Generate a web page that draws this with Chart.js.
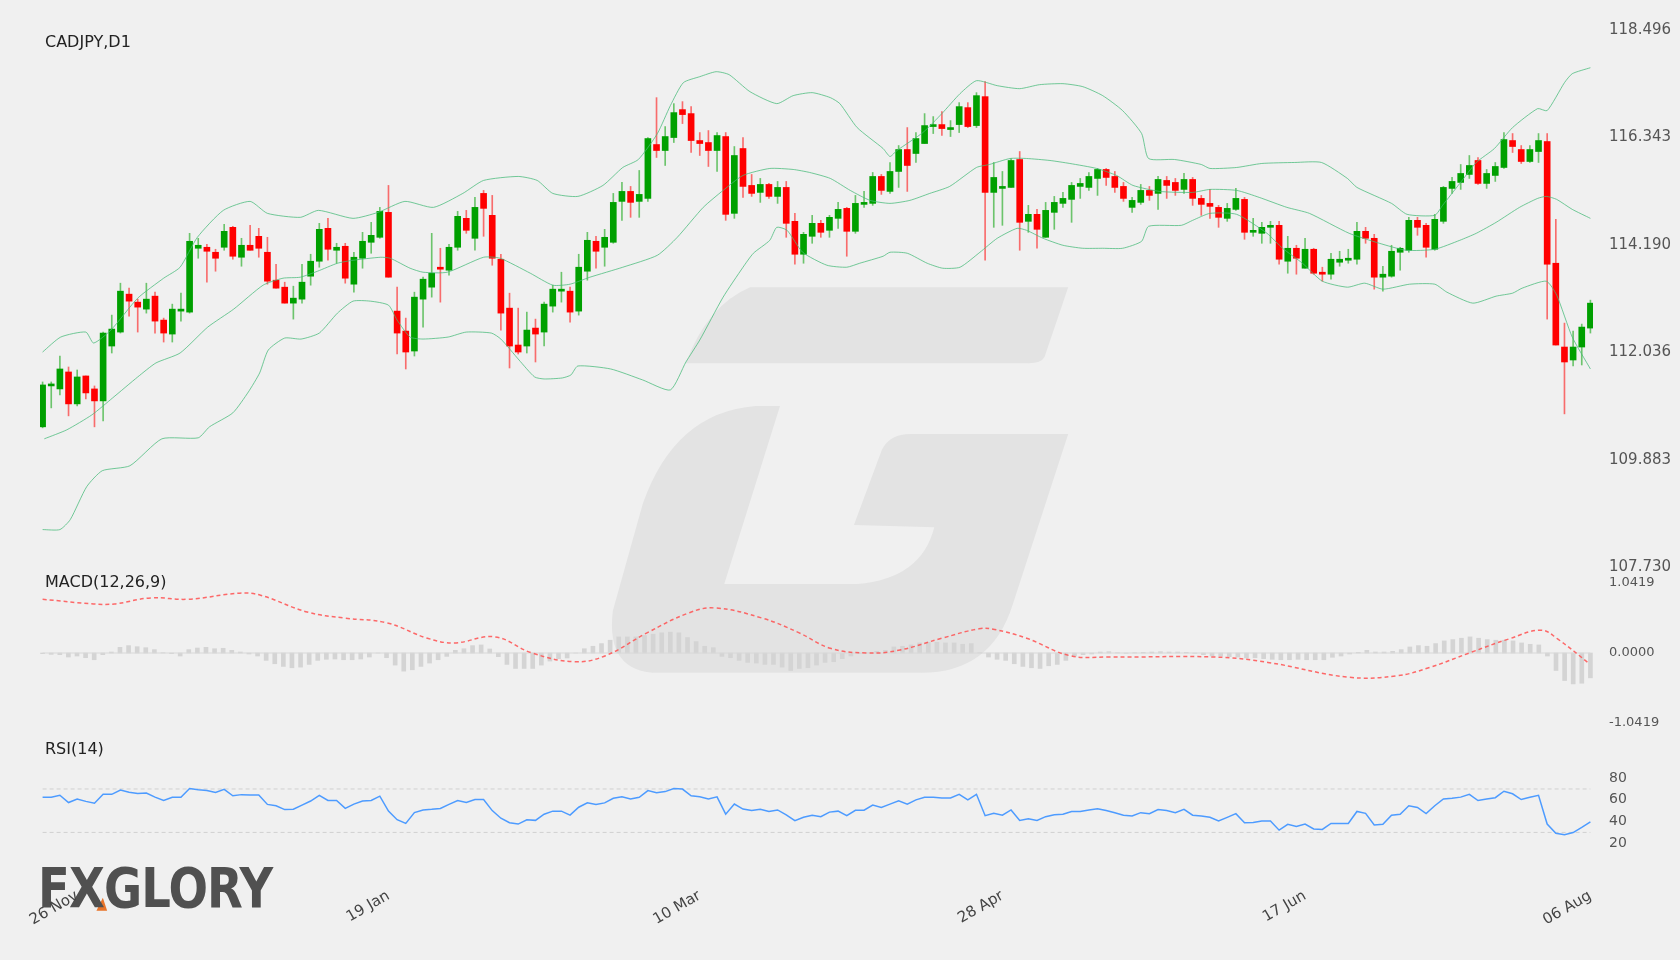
<!DOCTYPE html>
<html lang="en">
<head>
  <meta charset="UTF-8">
  <title>CADJPY,D1</title>
  <style>
    body { margin: 0; background: #f0f0f0; width: 1680px; height: 960px; overflow: hidden; position: relative; font-family: "DejaVu Sans", sans-serif; }
    canvas { position: absolute; left: 0; }
    .lbl { position: absolute; left: 45px; font-size: 16px; color: #222; }
    #logo { position: absolute; left: 38px; top: 855px; font: bold 56px "DejaVu Sans", sans-serif; color: #505050; letter-spacing: -1px; transform: scaleX(0.83); transform-origin: left top; }
  </style>
</head>
<body>
  <canvas id="bg" width="1680" height="960" style="top:0"></canvas>
  <div id="logo">FXGLORY</div>
  <canvas id="price" width="1680" height="600" style="top:0"></canvas>
  <canvas id="macd" width="1680" height="180" style="top:560px"></canvas>
  <canvas id="rsi" width="1680" height="220" style="top:740px"></canvas>
  <div class="lbl" style="top:32px">CADJPY,D1</div>
  <div class="lbl" style="top:572px">MACD(12,26,9)</div>
  <div class="lbl" style="top:739px">RSI(14)</div>
  <script src="https://cdn.jsdelivr.net/npm/chart.js"></script>
  <script>
    // daily candles, oldest first
    const open = [110.54,111.36,111.30,111.64,111.00,111.56,111.30,111.06,112.16,112.44,113.20,113.04,112.90,113.16,112.68,112.40,112.86,112.84,114.12,114.14,
      114.04,114.14,114.54,113.94,114.18,114.36,114.04,113.48,113.34,113.02,113.10,113.56,113.86,114.52,114.08,114.16,113.40,113.92,114.24,114.34,
      114.84,112.86,112.46,112.06,113.10,113.34,113.74,113.68,114.14,114.72,114.32,115.22,114.78,113.90,112.92,112.18,112.16,112.52,112.44,112.96,
      113.26,113.26,112.86,113.66,114.26,114.14,114.24,115.06,115.26,115.06,115.12,116.20,116.08,116.34,116.90,116.82,116.28,116.24,116.08,116.36,
      114.82,116.12,115.38,115.24,115.40,115.16,115.34,114.66,114.00,114.36,114.62,114.48,114.72,114.92,114.46,115.00,115.02,115.56,115.26,115.66,
      116.10,116.02,116.22,116.56,116.60,116.50,116.60,116.94,116.58,117.16,115.24,115.32,115.34,115.90,114.66,114.80,114.34,114.84,115.02,115.10,
      115.36,115.34,115.52,115.70,115.56,115.36,114.94,115.04,115.28,115.22,115.48,115.44,115.30,115.50,115.12,115.02,114.94,114.72,114.90,115.10,
      114.44,114.42,114.54,114.58,113.86,114.12,113.72,114.10,113.64,113.60,113.84,113.88,113.90,114.46,114.32,113.54,113.56,114.04,114.08,114.68,
      114.58,114.10,114.66,115.32,115.44,115.60,115.88,115.42,115.58,115.74,116.28,116.10,115.86,116.06,116.26,113.82,112.14,111.88,112.14,112.52];
    const high = [111.44,111.44,111.96,111.74,111.68,111.56,111.36,112.44,112.78,113.42,113.32,113.10,113.42,113.24,112.72,113.00,113.22,114.42,114.32,114.20,
      114.10,114.60,114.56,114.32,114.58,114.52,114.34,113.80,113.44,113.36,113.80,114.00,114.62,114.72,114.22,114.22,114.04,114.44,114.64,114.94,
      115.38,113.34,112.72,113.24,113.54,114.42,114.12,114.20,114.86,114.88,115.14,115.28,115.18,114.00,113.22,112.92,112.84,112.70,113.04,113.38,
      113.64,113.34,114.00,114.44,114.36,114.50,115.22,115.44,115.36,115.68,116.34,117.14,116.56,117.02,117.06,116.96,116.44,116.48,116.44,116.44,
      116.16,116.34,115.60,115.52,115.42,115.46,115.46,114.82,114.44,114.78,114.68,114.78,115.04,114.94,115.18,115.26,115.64,115.60,115.84,116.18,
      116.54,116.44,116.82,116.76,116.86,116.68,117.04,117.04,117.24,117.46,115.84,115.66,115.92,116.06,114.98,114.90,115.04,115.16,115.24,115.44,
      115.52,115.64,115.72,115.72,115.66,115.44,115.14,115.40,115.36,115.56,115.56,115.52,115.62,115.54,115.18,115.30,114.98,115.02,115.32,115.14,
      114.72,114.64,114.66,114.66,114.36,114.18,114.32,114.12,113.74,114.02,114.06,114.10,114.64,114.54,114.40,113.76,114.18,114.14,114.74,114.74,
      114.62,114.80,115.36,115.54,115.80,115.98,115.94,115.70,115.84,116.44,116.42,116.18,116.18,116.42,116.42,114.70,112.62,112.46,112.60,113.08];
    const low = [110.52,110.92,111.18,110.76,110.96,111.10,110.54,110.66,112.02,112.42,112.76,112.44,112.82,112.42,112.24,112.24,112.66,112.82,113.92,113.44,
      113.66,114.08,113.90,113.76,114.08,113.94,113.40,113.32,113.02,112.70,113.02,113.38,113.74,113.88,113.82,113.42,113.24,113.72,114.02,114.32,
      113.54,112.00,111.70,111.96,112.54,113.14,113.04,113.58,114.08,114.42,114.08,114.36,113.78,112.48,111.72,112.00,112.02,111.84,112.16,112.84,
      113.04,112.64,112.78,113.48,113.72,113.76,114.22,114.68,114.74,114.74,115.06,115.94,115.78,116.24,116.62,116.04,115.98,115.76,115.66,114.68,
      114.72,115.14,115.16,115.04,115.12,115.02,114.34,113.80,113.82,114.22,114.34,114.34,114.52,113.96,114.42,114.94,114.98,115.20,115.22,115.34,
      115.26,115.84,116.22,116.42,116.38,116.36,116.44,116.54,116.54,113.88,114.54,114.58,115.34,114.08,114.44,114.12,114.34,114.50,114.94,114.64,
      115.12,115.28,115.18,115.38,115.24,115.06,114.84,115.00,115.08,114.90,115.12,115.18,115.22,114.98,114.78,114.72,114.54,114.66,114.88,114.30,
      114.36,114.22,114.22,113.80,113.62,113.60,113.72,113.60,113.46,113.50,113.76,113.82,113.80,114.22,113.30,113.26,113.54,113.68,114.04,114.38,
      113.94,114.08,114.62,115.22,115.30,115.52,115.40,115.32,115.46,115.72,116.04,115.82,115.84,115.84,112.70,112.18,110.80,111.76,111.78,112.42];
    const close = [111.38,111.38,111.70,111.00,111.54,111.22,111.06,112.42,112.50,113.26,113.06,112.94,113.10,112.66,112.42,112.90,112.90,114.26,114.18,114.06,
      113.92,114.46,113.96,114.18,114.08,114.12,113.46,113.32,113.02,113.12,113.44,113.86,114.50,114.10,114.14,113.52,113.94,114.26,114.38,114.86,
      113.54,112.42,112.04,113.14,113.50,113.62,113.70,114.14,114.76,114.48,114.94,114.92,113.92,112.82,112.16,112.04,112.48,112.40,113.00,113.30,
      113.30,112.84,113.74,114.28,114.06,114.34,115.04,115.26,115.04,115.20,116.32,116.08,116.36,116.84,116.80,116.28,116.22,116.08,116.38,114.80,
      115.98,115.36,115.22,115.40,115.16,115.34,114.62,114.00,114.40,114.62,114.44,114.74,114.90,114.46,115.02,115.02,115.56,115.28,115.66,116.10,
      115.78,116.32,116.58,116.60,116.52,116.54,116.96,116.56,117.18,115.24,115.54,115.36,115.88,114.64,114.80,114.50,114.88,115.04,115.12,115.38,
      115.42,115.56,115.70,115.54,115.34,115.12,115.08,115.28,115.18,115.50,115.38,115.28,115.50,115.12,115.00,114.96,114.74,114.92,115.12,114.44,
      114.48,114.54,114.58,113.90,114.12,113.92,114.10,113.62,113.60,113.90,113.90,113.92,114.46,114.32,113.54,113.60,114.06,114.12,114.68,114.54,
      114.14,114.70,115.34,115.46,115.62,115.78,115.42,115.62,115.76,116.30,116.16,115.86,116.10,116.28,113.80,112.18,111.84,112.14,112.54,113.02];

    // Bollinger bands, read as [candle index, price]
    const bandUpper = [[0,112.04],[2.1,112.34],[5.0,112.44],[5.9,112.22],[7.9,112.48],[11.0,113.12],[14.0,113.52],[15.9,113.74],[17.9,114.34],[20.9,114.88],
      [24.0,115.06],[26.0,114.82],[29.8,114.74],[31.9,114.88],[35.9,114.72],[38.8,114.84],[41.9,115.06],[45.2,114.94],[48.6,115.22],[51.0,115.48],
      [55.0,115.56],[57.2,115.48],[59.0,115.22],[61.9,115.16],[64.8,115.38],[67.1,115.74],[68.9,115.90],[71.1,116.42],[72.6,116.98],[74.1,117.44],
      [76.0,117.56],[77.9,117.66],[79.4,117.60],[81.8,117.26],[84.9,117.02],[86.8,117.18],[89.0,117.24],[91.1,117.14],[92.2,117.02],[94.2,116.54],
      [97.2,116.12],[98.0,115.96],[98.8,116.08],[101.8,116.44],[104.0,116.82],[106.1,117.22],[108.0,117.48],[110.4,117.38],[113.0,117.32],[115.3,117.40],
      [118.0,117.42],[120.3,117.36],[122.6,117.18],[124.9,116.88],[127.1,116.42],[127.9,115.92],[130.9,115.90],[134.0,115.80],[135.0,115.72],[138.1,115.74],
      [141.0,115.82],[144.8,115.84],[147.9,115.84],[150.9,115.52],[152.0,115.34],[156.0,115.02],[157.8,114.80],[161.0,114.78],[161.9,114.98],[163.9,115.42],
      [165.8,115.84],[167.9,116.12],[170.0,116.54],[172.9,116.92],[174.0,116.88],[176.0,117.44],[176.9,117.62],[179.0,117.74]];
    const bandMiddle = [[0.2,110.30],[2.8,110.48],[5.7,110.78],[8.1,111.12],[11.0,111.54],[13.1,111.82],[15.9,112.02],[19.1,112.54],[22.1,112.90],[25.5,113.38],
      [27.8,113.52],[29.8,113.54],[31.8,113.66],[34.1,113.82],[35.9,113.88],[39.1,113.94],[40.2,113.92],[42.5,113.72],[44.0,113.64],[46.8,113.64],
      [51.0,113.94],[52.9,113.92],[56.4,113.62],[59.0,113.38],[61.0,113.40],[63.3,113.54],[67.1,113.74],[71.1,113.98],[73.4,114.34],[76.4,114.94],
      [78.7,115.28],[81.0,115.58],[84.1,115.72],[86.8,115.70],[88.7,115.64],[91.1,115.52],[93.4,115.28],[95.7,115.08],[98.0,115.02],[100.3,115.08],
      [102.6,115.22],[104.9,115.36],[108.0,115.74],[109.5,115.80],[111.9,115.92],[113.8,115.92],[116.5,115.88],[118.8,115.82],[121.9,115.72],[124.2,115.58],
      [126.1,115.38],[129.2,115.26],[133.0,115.24],[135.0,115.30],[138.1,115.28],[140.7,115.14],[143.9,114.94],[146.5,114.82],[151.1,114.42],[154.6,114.22],
      [157.7,114.08],[161.0,114.10],[163.9,114.28],[165.8,114.42],[168.1,114.64],[170.8,114.94],[172.9,115.12],[173.9,115.16],[175.1,115.10],[176.9,114.90],[179.0,114.72]];
    const bandLower = [[0,108.48],[2.0,108.48],[3.2,108.68],[5.1,109.34],[6.9,109.66],[10.1,109.76],[13.8,110.30],[18.0,110.32],[19.3,110.54],[22.0,110.82],
      [23.8,111.24],[25.1,111.62],[26.1,112.08],[28.0,112.32],[29.9,112.30],[32.0,112.42],[34.1,112.82],[35.9,113.06],[37.9,113.06],[40.0,112.98],
      [41.0,112.68],[42.5,112.34],[44.0,112.30],[46.9,112.34],[49.0,112.44],[51.9,112.42],[53.0,112.30],[55.1,111.88],[56.9,111.54],[58.0,111.50],
      [60.1,111.52],[61.1,111.58],[61.9,111.76],[65.7,111.70],[69.4,111.48],[72.6,111.28],[74.4,111.84],[76.0,112.28],[78.7,113.14],[81.0,113.74],
      [82.2,114.02],[84.1,114.28],[84.9,114.54],[86.1,114.48],[87.9,114.04],[90.7,113.78],[93.0,113.74],[94.5,113.82],[97.2,113.96],[98.0,114.04],
      [100.0,114.02],[102.3,113.82],[104.1,113.72],[106.1,113.74],[108.4,114.04],[110.4,114.32],[112.7,114.52],[113.8,114.48],[115.7,114.32],[118.0,114.18],
      [120.3,114.12],[122.6,114.12],[124.9,114.12],[127.1,114.26],[127.9,114.56],[131.7,114.58],[133.0,114.68],[135.0,114.82],[138.1,114.80],[141.6,114.42],
      [143.4,114.12],[145.7,113.82],[148.0,113.46],[150.9,113.34],[152.9,113.42],[155.0,113.30],[158.1,113.40],[161.0,113.40],[162.4,113.24],[165.4,113.02],
      [168.1,113.16],[170.0,113.22],[171.1,113.32],[173.9,113.46],[175.1,113.18],[176.9,112.34],[179.0,111.70]];

    const macdHist = [-0.01,-0.02,-0.025,-0.06,-0.045,-0.07,-0.10,-0.025,0.015,0.084,0.11,0.094,0.079,0.05,0.005,-0.01,-0.045,0.05,0.074,0.084,
      0.064,0.07,0.04,0.015,-0.015,-0.045,-0.11,-0.16,-0.20,-0.22,-0.21,-0.17,-0.11,-0.094,-0.09,-0.10,-0.10,-0.09,-0.06,0,
      -0.07,-0.18,-0.27,-0.25,-0.20,-0.15,-0.10,-0.05,0.04,0.064,0.11,0.12,0.06,-0.055,-0.17,-0.23,-0.23,-0.23,-0.18,-0.12,
      -0.084,-0.074,0,0.064,0.10,0.14,0.19,0.24,0.24,0.24,0.26,0.28,0.30,0.31,0.30,0.23,0.17,0.10,0.08,-0.05,
      -0.07,-0.11,-0.14,-0.15,-0.17,-0.17,-0.21,-0.26,-0.23,-0.22,-0.18,-0.14,-0.13,-0.084,-0.045,-0.01,0.005,0.025,0.04,0.09,
      0.10,0.12,0.15,0.16,0.16,0.15,0.15,0.13,0.14,0.005,-0.06,-0.094,-0.11,-0.16,-0.20,-0.22,-0.23,-0.19,-0.17,-0.11,
      -0.045,-0.025,-0.015,0.015,0.02,0.005,-0.005,0.005,0.01,0.015,0.02,0.015,0.015,0.01,-0.005,-0.025,-0.045,-0.045,-0.055,-0.06,
      -0.074,-0.07,-0.084,-0.094,-0.10,-0.10,-0.094,-0.10,-0.10,-0.10,-0.064,-0.045,-0.015,0.01,0.04,0.015,0.015,0.025,0.05,0.09,
      0.11,0.10,0.14,0.18,0.20,0.22,0.24,0.22,0.20,0.19,0.19,0.18,0.15,0.13,0.12,-0.045,-0.26,-0.41,-0.46,-0.45,-0.37];
    const macdSignal = [[0,0.80],[5.9,0.73],[8.3,0.73],[12.5,0.82],[16.8,0.80],[22.8,0.89],[25.2,0.86],[30.6,0.61],[34.9,0.52],[39.8,0.45],
      [44.5,0.22],[47.6,0.15],[52.3,0.24],[56.6,0],[61.5,-0.13],[65.1,-0.04],[69.9,0.30],[74.8,0.60],[77.8,0.67],[83.2,0.52],
      [87.5,0.30],[91.1,0.07],[95.3,0],[99.0,0.04],[104.0,0.22],[108.3,0.36],[110.1,0.35],[113.8,0.22],[118.8,-0.04],[123.2,-0.06],
      [135.5,-0.06],[141.7,-0.14],[151.0,-0.36],[156.6,-0.34],[160.3,-0.22],[165.2,0.01],[169.6,0.21],[173.3,0.34],[175.2,0.21],[178.9,-0.16]];
    const macdTicks = [-1.0419, 0, 1.0419];

    const rsi = [62.3,62.3,64.2,57.5,60.8,58.6,56.9,65.1,65.1,69.0,67.0,65.9,66.2,62.5,59.4,62.3,62.3,70.4,69.3,68.5,
      66.8,69.6,63.7,64.8,64.5,64.5,55.8,54.6,51.0,51.3,55.2,58.9,64.2,59.4,59.4,52.1,56.1,58.9,59.4,63.4,
      49.6,41.7,38.3,48.2,50.7,51.3,52.1,55.8,59.4,57.5,60.3,60.3,50.1,43.1,38.9,37.7,41.7,41.1,46.8,49.6,
      49.6,45.9,53.2,57.2,55.8,57.2,61.4,62.8,60.8,62.3,68.5,66.5,67.6,70.4,69.9,63.7,62.8,60.8,62.8,46.8,
      56.1,51.5,50.1,51.3,49.3,50.7,46.2,40.8,43.9,45.9,44.5,48.7,49.6,45.4,50.4,50.4,55.2,53.0,56.1,59.2,
      56.1,60.0,62.3,62.3,61.7,61.7,65.1,60.0,65.1,45.4,47.6,45.9,50.7,41.1,42.5,41.1,44.5,46.2,46.8,49.3,
      49.3,50.7,51.8,50.1,48.2,45.9,45.1,48.2,47.3,51.0,50.1,48.2,51.3,45.9,45.1,43.9,40.6,43.9,47.3,38.9,
      39.2,40.6,40.6,32.1,37.5,35.5,37.7,33.2,32.7,38.3,38.3,38.3,49.3,47.6,36.9,37.5,45.9,46.8,54.6,53.0,
      47.3,54.6,60.8,61.4,62.5,65.1,59.4,60.8,62.0,67.9,65.6,60.3,62.3,64.2,37.7,29.3,27.9,29.9,34.6,39.7];
    const rsiLevels = [70, 30];
    const rsiTicks = [20, 40, 60, 80];

    const priceTicks = [107.730, 109.883, 112.036, 114.190, 116.343, 118.496];
    const dateIdx = [4, 40, 76, 111, 146, 179];
    const dateLabels = ['26 Nov', '19 Jan', '10 Mar', '28 Apr', '17 Jun', '06 Aug'];

    const N = close.length;
    const UP = '#00a000', DOWN = '#ff0000';
    const isUp = close.map((c, i) => c >= open[i]);

    // watermark
    const bg = document.getElementById('bg').getContext('2d');
    bg.save();
    bg.scale(15 / 14, 15 / 14);
    bg.fillStyle = '#e3e3e3';
    bg.beginPath();
    bg.moveTo(700, 268); bg.lineTo(997, 268); bg.lineTo(975, 333);
    bg.quadraticCurveTo(972, 339, 960, 339); bg.lineTo(640, 339);
    bg.quadraticCurveTo(660, 285, 700, 268);
    bg.fill();
    bg.beginPath();
    bg.moveTo(728, 379); bg.lineTo(676, 545); bg.lineTo(800, 545);
    bg.quadraticCurveTo(860, 540, 872, 492); bg.lineTo(797, 490);
    bg.lineTo(823, 420); bg.quadraticCurveTo(830, 405, 850, 405);
    bg.lineTo(997, 405); bg.lineTo(945, 565);
    bg.quadraticCurveTo(925, 628, 860, 628); bg.lineTo(615, 628);
    bg.quadraticCurveTo(565, 628, 572, 570); bg.lineTo(600, 470);
    bg.quadraticCurveTo(630, 385, 705, 379);
    bg.closePath();
    bg.fill();
    // orange notch of the logo's X
    bg.fillStyle = '#e8742a';
    bg.beginPath();
    bg.moveTo(90, 850); bg.lineTo(96, 838); bg.lineTo(100, 850);
    bg.closePath();
    bg.fill();
    bg.restore();

    Chart.defaults.font.family = '"DejaVu Sans", sans-serif';
    Chart.defaults.color = '#555';
    const AXIS_W = 87;
    const xHidden = { type: 'linear', display: false, offset: false, min: -0.3, max: N - 0.7 };
    const rightAxis = (min, max, ticks, fmt, size) => ({
      type: 'linear', position: 'right', min: min, max: max,
      grid: { display: false }, border: { display: false },
      afterFit: s => { s.width = AXIS_W; },
      afterBuildTicks: s => { s.ticks = ticks.map(v => ({ value: v })); },
      ticks: { padding: 8, font: { size: size }, color: '#555', callback: fmt }
    });
    const bandSet = (pts) => ({
      type: 'line', data: pts.map(p => ({ x: p[0], y: p[1] })),
      borderColor: 'rgba(70,185,120,0.75)', borderWidth: 1, pointRadius: 0, tension: 0.2
    });

    new Chart(document.getElementById('price'), {
      type: 'bar',
      data: {
        datasets: [
          bandSet(bandUpper), bandSet(bandMiddle), bandSet(bandLower),
          { data: close.map((c, i) => ({ x: i, y: [low[i], high[i]] })), barThickness: 1,
            backgroundColor: isUp.map(u => u ? 'rgba(0,160,0,0.55)' : 'rgba(255,0,0,0.55)') },
          { data: close.map((c, i) => ({ x: i, y: [open[i], c] })), barThickness: 6, minBarLength: 2,
            backgroundColor: isUp.map(u => u ? UP : DOWN) }
        ]
      },
      options: {
        responsive: false, animation: false, devicePixelRatio: 1,
        layout: { padding: { left: 40, top: 30, bottom: 33, right: 0 } },
        plugins: { legend: { display: false }, tooltip: { enabled: false } },
        datasets: { bar: { grouped: false } },
        scales: {
          x: xHidden,
          y: rightAxis(107.73, 118.496, priceTicks, v => v.toFixed(3), 15)
        }
      }
    });

    new Chart(document.getElementById('macd'), {
      type: 'bar',
      data: {
        datasets: [
          { type: 'line', data: macdSignal.map(p => ({ x: p[0], y: p[1] })), borderColor: 'rgba(255,80,80,0.85)',
            borderWidth: 1.5, borderDash: [4, 3], pointRadius: 0, tension: 0.4 },
          { type: 'line', data: [{ x: 0, y: 0 }, { x: N - 1, y: 0 }], borderColor: '#d8d8d8', borderWidth: 1, pointRadius: 0 },
          { data: macdHist.map((v, i) => ({ x: i * (N - 1) / (macdHist.length - 1), y: v })),
            backgroundColor: '#d4d4d4', barThickness: 4 }
        ]
      },
      options: {
        responsive: false, animation: false, devicePixelRatio: 1,
        layout: { padding: { left: 40, top: 23, bottom: 17, right: 0 } },
        plugins: { legend: { display: false }, tooltip: { enabled: false } },
        datasets: { bar: { grouped: false } },
        scales: {
          x: xHidden,
          y: rightAxis(-1.0419, 1.0419, macdTicks, v => v.toFixed(4), 13)
        }
      }
    });

    new Chart(document.getElementById('rsi'), {
      type: 'line',
      data: {
        datasets: [
          { data: rsi.map((v, i) => ({ x: i * (N - 1) / (rsi.length - 1), y: v })), borderColor: '#4d9bff',
            borderWidth: 1.5, pointRadius: 0, tension: 0 },
          ...rsiLevels.map(l => ({ data: [{ x: 0, y: l }, { x: N - 1, y: l }], borderColor: '#d0d0d0',
            borderWidth: 1, borderDash: [4, 3], pointRadius: 0 }))
        ]
      },
      options: {
        responsive: false, animation: false, devicePixelRatio: 1,
        layout: { padding: { left: 40, top: 0, bottom: 0, right: 0 } },
        plugins: { legend: { display: false }, tooltip: { enabled: false } },
        scales: {
          x: {
            type: 'linear', min: -0.3, max: N - 0.7,
            grid: { display: false }, border: { display: false },
            afterFit: s => { s.height = 95; },
            afterBuildTicks: s => { s.ticks = dateIdx.map(v => ({ value: v })); },
            ticks: { autoSkip: false, minRotation: 30, maxRotation: 30, padding: 14, font: { size: 15 }, color: '#444',
              callback: v => dateLabels[dateIdx.indexOf(v)] }
          },
          y: rightAxis(0, 100, rsiTicks, v => v, 14)
        }
      }
    });
  </script>
</body>
</html>
